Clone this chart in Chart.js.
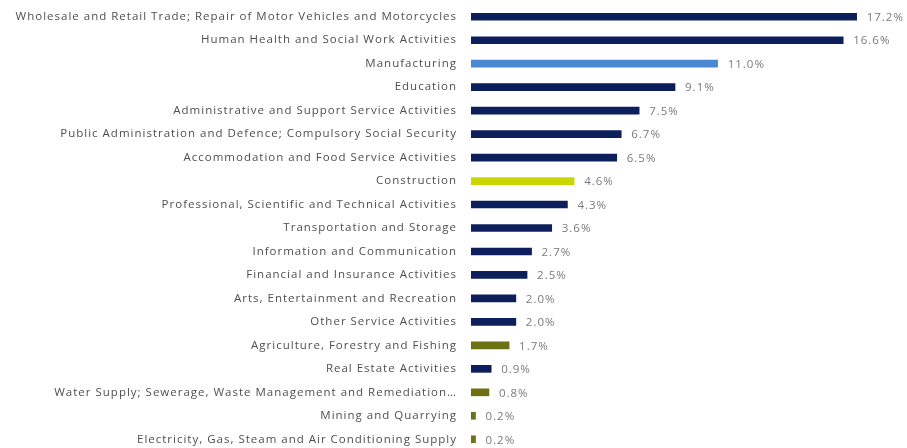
<!DOCTYPE html>
<html>
<head>
<meta charset="utf-8">
<script src="https://cdn.jsdelivr.net/npm/chart.js@4/dist/chart.umd.min.js"></script>
<style>
  html, body { margin: 0; padding: 0; background: #fff; overflow: hidden; }
  #wrap { position: relative; width: 907px; height: 451px; }
</style>
</head>
<body>
<div id="wrap"><canvas id="myChart"></canvas></div>
<script>
var sectors = [
  'Wholesale and Retail Trade; Repair of Motor Vehicles and Motorcycles',
  'Human Health and Social Work Activities',
  'Manufacturing',
  'Education',
  'Administrative and Support Service Activities',
  'Public Administration and Defence; Compulsory Social Security',
  'Accommodation and Food Service Activities',
  'Construction',
  'Professional, Scientific and Technical Activities',
  'Transportation and Storage',
  'Information and Communication',
  'Financial and Insurance Activities',
  'Arts, Entertainment and Recreation',
  'Other Service Activities',
  'Agriculture, Forestry and Fishing',
  'Real Estate Activities',
  'Water Supply; Sewerage, Waste Management and Remediation\u2026',
  'Mining and Quarrying',
  'Electricity, Gas, Steam and Air Conditioning Supply'
];

var shares = [17.2, 16.6, 11.0, 9.1, 7.5, 6.7, 6.5, 4.6, 4.3, 3.6, 2.7, 2.5, 2.0, 2.0, 1.7, 0.9, 0.8, 0.2, 0.2];

// colour group per sector: n = navy, m = manufacturing, c = construction, p = primary/utilities
var groups = ['n','n','m','n','n','n','n','c','n','n','n','n','n','n','p','n','p','p','p'];

var groupColours = { n: '#0c1f5c', m: '#4a89d2', c: '#cad600', p: '#6c7112' };

// a bit of tracking so the text sits as wide as the report font
var spacing = {
  id: 'spacing',
  beforeDraw: function (chart) {
    chart.ctx.letterSpacing = '1px';
  }
};

// writes the percentage just past the end of each bar
var valueLabels = {
  id: 'valueLabels',
  afterDatasetsDraw: function (chart) {
    var ctx = chart.ctx;
    var meta = chart.getDatasetMeta(0);
    ctx.save();
    ctx.font = '11.5px "Open Sans"';
    ctx.fillStyle = '#7a7a7a';
    ctx.textAlign = 'left';
    ctx.textBaseline = 'middle';
    meta.data.forEach(function (bar, i) {
      ctx.fillText(shares[i].toFixed(1) + '%', bar.x + 10, bar.y + 1);
    });
    ctx.restore();
  }
};

var ctx = document.getElementById('myChart');
var chart = new Chart(ctx, {
  type: 'bar',
  data: {
    labels: sectors,
    datasets: [{
      data: shares,
      backgroundColor: groups.map(function (g) { return groupColours[g]; }),
      borderWidth: 0,
      barThickness: 7
    }]
  },
  plugins: [spacing, valueLabels],
  options: {
    indexAxis: 'y',
    responsive: true,
    maintainAspectRatio: false,
    animation: false,
    layout: { padding: { top: 5, right: 10, bottom: 0, left: 0 } },
    plugins: {
      legend: { display: false },
      tooltip: { enabled: false }
    },
    scales: {
      x: {
        display: false,
        min: 0,
        max: 19
      },
      y: {
        grid: { display: false, drawTicks: false },
        border: { display: false },
        ticks: {
          color: '#4f4f4f',
          font: { family: '"Open Sans"', size: 11.5 },
          padding: 14,
          autoSkip: false
        },
        afterFit: function (scale) {
          scale.width = 471;
          scale.paddingTop = 0;
          scale.paddingBottom = 0;
        }
      }
    }
  }
});
</script>
</body>
</html>
